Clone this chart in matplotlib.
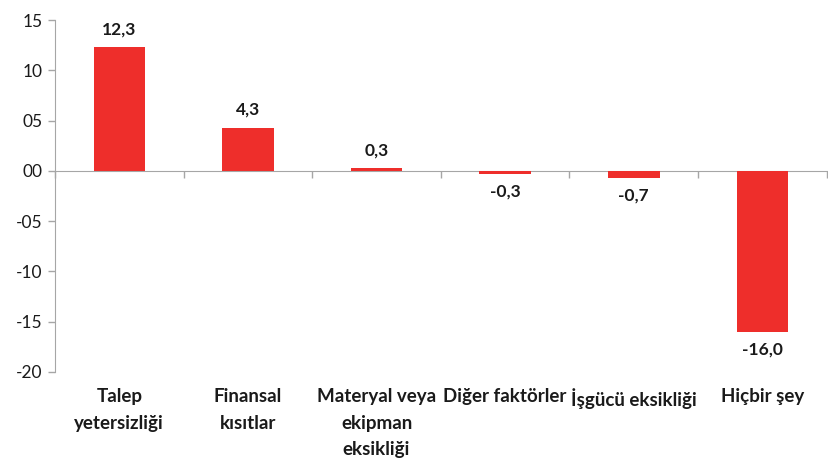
import numpy as np
import matplotlib.pyplot as plt
from matplotlib.ticker import FixedLocator

kategoriler = ["Talep\nyetersizliği", "Finansal\nkısıtlar", "Materyal veya\nekipman\neksikliği",
               "Diğer faktörler", "İşgücü eksikliği", "Hiçbir şey"]
degerler = [12.3, 4.3, 0.3, -0.3, -0.7, -16.0]
y_ticks = [15, 10, 5, 0, -5, -10, -15, -20]
y_etiket = ["15", "10", "05", "00", "-05", "-10", "-15", "-20"]

plt.rcParams['font.family'] = ['Lato', 'DejaVu Sans']
gri = "#a6a6a6"
yazi = "#1a1a1a"

fig = plt.figure(figsize=(8.29, 4.58), dpi=100)
ax = fig.add_axes([0.0663, 0.1878, 0.931, 0.7685])

x = np.arange(len(kategoriler))
ax.bar(x, degerler, width=0.4, color="#ee2e2b", zorder=3)

ax.set_xlim(-0.5, len(kategoriler) - 0.5)
ax.set_ylim(-20, 15)
ax.set_yticks(y_ticks)
ax.set_yticklabels(y_etiket, fontsize=12.5, color=yazi)
ax.tick_params(axis='y', length=5, color=gri, width=1, pad=4)

for s in ["top", "right"]:
    ax.spines[s].set_visible(False)
ax.spines["left"].set_color(gri)
# x ekseni sıfırda, kategori sınırlarında küçük çentikler
ax.spines["bottom"].set_position(("data", 0))
ax.spines["bottom"].set_color(gri)
ax.xaxis.set_major_locator(FixedLocator([]))
ax.xaxis.set_minor_locator(FixedLocator(np.arange(len(kategoriler) + 1) - 0.5))
ax.tick_params(axis='x', which='minor', length=5, color=gri, width=1, direction='out')

# değer etiketleri
for xi, v in zip(x, degerler):
    lbl = f"{v:.1f}".replace(".", ",")
    if v >= 0:
        ax.annotate(lbl, (xi, v), xytext=(0, 7), textcoords="offset points",
                    ha="center", va="bottom", fontsize=12.5, fontweight="bold", color=yazi)
    else:
        ax.annotate(lbl, (xi, v), xytext=(0, -7), textcoords="offset points",
                    ha="center", va="top", fontsize=12.5, fontweight="bold", color=yazi)

# kategori etiketleri alt kısımda
trans = ax.get_xaxis_transform()
for xi, k in zip(x, kategoriler):
    ax.text(xi, -0.045, k, transform=trans, ha="center", va="top", fontsize=13.5,
            fontweight="bold", color=yazi, linespacing=1.7)

fig.savefig("out.png", dpi=100)
